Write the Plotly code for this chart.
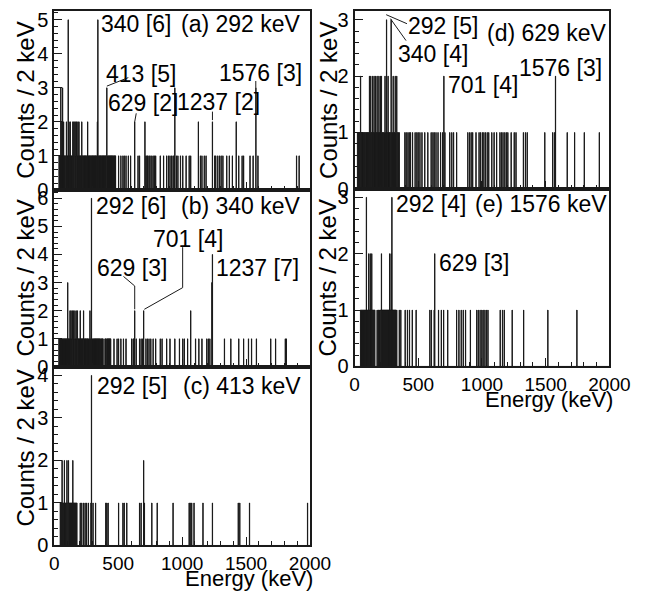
import numpy as np
import plotly.graph_objects as go

# ---------------- data: energies (keV) of 2-keV bins, grouped by bin content ----------------
# (a) gate 292 keV
a_e1 = [36, 38, 40, 42, 44, 46, 54, 60, 68, 76, 80, 82, 84, 86, 88, 92, 98, 100, 102, 104, 106, 112,
        118, 120, 122, 128, 130, 132, 134, 136, 138, 140, 142, 148, 150, 156, 158, 162, 164, 166, 170,
        172, 178, 180, 182, 188, 190, 196, 198, 200, 204, 206, 208, 212, 218, 220, 222, 226, 228, 232,
        234, 238, 240, 244, 246, 250, 252, 256, 262, 266, 270, 272, 276, 278, 282, 284, 288, 290, 294,
        296, 300, 302, 306, 310, 314, 318, 320, 324, 328, 330, 334, 344, 346, 350, 352, 356, 358, 362,
        364, 368, 370, 374, 376, 380, 384, 388, 392, 396, 398, 402, 416, 420, 424, 428, 432, 436, 440,
        444, 448, 452, 456, 462, 466, 470, 474, 478, 503, 521, 536, 546, 561, 579, 596, 654, 666, 716,
        724, 731, 741, 749, 762, 772, 782, 792, 829, 854, 879, 892, 904, 917, 929, 937, 954, 967, 987,
        1005, 1030, 1055, 1067, 1142, 1155, 1172, 1187, 1255, 1263, 1278, 1293, 1305, 1318, 1348, 1368,
        1393, 1443, 1468, 1480, 1530, 1555, 1593, 1894, 1914]
a_e2 = [58, 73, 95, 115, 125, 145, 153, 160, 168, 175, 185, 193, 215, 260, 336, 629, 709, 1127, 1237, 1423]
a_e3 = [50, 64, 410, 942, 1576]
a_e5 = [108, 340]

# (b) gate 340 keV
b_e1 = [36, 40, 44, 48, 52, 56, 60, 64, 68, 72, 76, 80, 84, 88, 92, 96, 100, 108, 112, 116, 120, 126,
        128, 132, 136, 138, 142, 146, 150, 152, 156, 158, 162, 166, 168, 172, 176, 178, 182, 186, 188,
        192, 196, 198, 206, 210, 212, 216, 220, 222, 226, 230, 232, 236, 240, 242, 246, 250, 252, 256,
        260, 262, 266, 272, 284, 290, 298, 302, 306, 312, 316, 320, 324, 328, 332, 336, 340, 344, 348,
        352, 356, 362, 368, 372, 376, 380, 396, 400, 404, 412, 416, 420, 424, 428, 432, 436, 440, 466,
        491, 503, 521, 541, 561, 604, 616, 622, 641, 666, 679, 691, 716, 729, 741, 754, 772, 792, 829,
        842, 879, 904, 942, 979, 1005, 1017, 1042, 1105, 1130, 1155, 1192, 1205, 1217, 1330, 1380,
        1443, 1480, 1518, 1543, 1581, 1693, 1731, 1806, 1814]
b_e2 = [123, 130, 140, 148, 160, 170, 180, 203, 228, 278, 629, 699, 1067]
b_e3 = [105, 1233]
b_e4 = [1237]
b_e6 = [291]

# (c) gate 413 keV
c_e1 = [46, 48, 52, 54, 56, 62, 64, 68, 70, 72, 76, 80, 82, 86, 88, 90, 94, 96, 100, 102, 104, 108,
        112, 114, 116, 120, 122, 124, 128, 130, 132, 136, 138, 140, 142, 148, 150, 152, 156, 158, 160,
        164, 166, 168, 172, 174, 176, 203, 215, 228, 240, 253, 266, 286, 303, 323, 403, 411, 421, 503,
        536, 546, 566, 666, 679, 704, 762, 804, 929, 1055, 1062, 1075, 1092, 1162, 1237, 1438, 1450,
        1526, 1981]
c_e2 = [60, 78, 98, 110, 145, 699]
c_e4 = [291]

# (d) gate 629 keV
d_e1 = [22, 24, 26, 30, 32, 34, 38, 40, 42, 44, 50, 52, 54, 58, 60, 62, 64, 68, 70, 72, 76, 78, 80, 84,
        86, 88, 90, 94, 96, 98, 102, 104, 106, 110, 112, 114, 120, 122, 124, 130, 132, 134, 136, 144,
        146, 148, 154, 156, 158, 160, 168, 170, 172, 180, 182, 184, 186, 194, 196, 198, 206, 208, 212,
        214, 216, 220, 222, 224, 226, 230, 232, 234, 236, 240, 242, 244, 246, 254, 256, 258, 264, 266,
        268, 270, 274, 276, 278, 280, 282, 292, 294, 296, 298, 300, 306, 308, 310, 314, 316, 320, 322,
        324, 326, 328, 334, 336, 338, 340, 342, 344, 346, 348, 350, 394, 404, 419, 429, 439, 454, 474,
        489, 499, 512, 529, 550, 575, 600, 615, 625, 638, 655, 675, 690, 708, 746, 763, 776, 801, 889,
        902, 914, 927, 952, 977, 989, 1002, 1015, 1027, 1040, 1052, 1077, 1095, 1115, 1140, 1153, 1165,
        1178, 1191, 1203, 1228, 1253, 1266, 1324, 1341, 1354, 1493, 1555, 1568, 1668, 1726, 1802, 1920]
d_e2 = [47, 117, 127, 140, 152, 165, 177, 190, 203, 210, 238, 262, 303, 318, 331, 700, 1576]
d_e3 = [250, 287]

# (e) gate 1576 keV
e_e1 = [46, 48, 50, 54, 56, 58, 62, 64, 66, 70, 72, 74, 78, 80, 82, 86, 88, 90, 94, 96, 98, 102, 104,
        106, 112, 114, 116, 120, 124, 126, 128, 132, 138, 140, 142, 146, 148, 150, 154, 156, 158, 176,
        184, 190, 196, 202, 204, 206, 208, 214, 216, 218, 220, 222, 224, 226, 228, 230, 232, 234, 236,
        238, 240, 242, 244, 246, 248, 250, 252, 254, 256, 258, 260, 262, 264, 266, 268, 270, 276, 278,
        280, 282, 284, 290, 294, 296, 298, 300, 302, 304, 306, 308, 310, 312, 314, 316, 318, 320, 322,
        324, 330, 350, 363, 396, 414, 431, 452, 482, 591, 603, 624, 659, 680, 699, 730, 801, 819, 837,
        852, 870, 908, 959, 971, 984, 999, 1009, 1022, 1034, 1047, 1143, 1161, 1174, 1237, 1326, 1516,
        1744]
e_e2 = [110, 122, 135, 211, 274, 287, 629]
e_e3 = [92, 292]

gate_labels = ["(a) 292 keV", "(b) 340 keV", "(c) 413 keV", "(d) 629 keV", "(e) 1576 keV"]
x_ticks = [0, 500, 1000, 1500, 2000]
x_title = "Energy (keV)"
y_title = "Counts / 2 keV"

# ---------------- layout helpers ----------------
W, H = 665, 601
FONT = "Liberation Sans"


def fx(p):
    return p / W


def fy(p):
    return 1 - p / H


BIN = 2
edges = np.arange(0, 2000 + BIN, BIN)


def build(groups):
    cnt = np.zeros(len(edges) - 1)
    for c, es in groups:
        for e in es:
            cnt[min(int(e // BIN), len(cnt) - 1)] = c
    return cnt


panels = [
    dict(groups=[(1, a_e1), (2, a_e2), (3, a_e3), (5, a_e5)], xd=(51.3, 317.4), yd=(9.5, 192), ymax=5.25, lab=False),
    dict(groups=[(1, b_e1), (2, b_e2), (3, b_e3), (4, b_e4), (6, b_e6)], xd=(51.3, 317.4), yd=(192, 373), ymax=6.3, lab=False),
    dict(groups=[(1, c_e1), (2, c_e2), (4, c_e4)], xd=(51.3, 317.4), yd=(373, 555.5), ymax=4.2, lab=True),
    dict(groups=[(1, d_e1), (2, d_e2), (3, d_e3)], xd=(363.8, 629), yd=(9.5, 191), ymax=3.15, lab=False),
    dict(groups=[(1, e_e1), (2, e_e2), (3, e_e3)], xd=(363.8, 629), yd=(191, 372.5), ymax=3.15, lab=True),
]

fig = go.Figure()
layout = dict(width=W, height=H, margin=dict(l=0, r=0, t=0, b=0), paper_bgcolor="white",
              plot_bgcolor="white", showlegend=False, font=dict(family=FONT, color="black"))
annotations = []
shapes = []

for i, p in enumerate(panels):
    n = i + 1
    xs = "x" if n == 1 else f"x{n}"
    ys = "y" if n == 1 else f"y{n}"
    cnt = build(p["groups"])
    fig.add_trace(go.Scatter(x=edges, y=np.append(cnt, cnt[-1]), mode="lines", line_shape="hv",
                             fill="tozeroy", fillcolor="#1a1a1a",
                             line=dict(color="#1a1a1a", width=1), xaxis=xs, yaxis=ys, hoverinfo="skip"))
    xk = "xaxis" if n == 1 else f"xaxis{n}"
    yk = "yaxis" if n == 1 else f"yaxis{n}"
    layout[xk] = dict(domain=[fx(p["xd"][0]), fx(p["xd"][1])], range=[0, 2000], anchor=ys,
                      showline=True, mirror=True, linecolor="#1a1a1a", linewidth=2,
                      ticks="inside", tickvals=x_ticks, ticklen=8, tickcolor="#1a1a1a",
                      minor=dict(dtick=100, ticklen=4, ticks="inside", tickcolor="#1a1a1a"),
                      showticklabels=p["lab"], tickfont=dict(size=19, family=FONT),
                      showgrid=False, zeroline=False, fixedrange=True)
    layout[yk] = dict(domain=[fy(p["yd"][1]), fy(p["yd"][0])], range=[0, p["ymax"]], anchor=xs,
                      showline=True, mirror=True, linecolor="#1a1a1a", linewidth=2,
                      ticks="inside", dtick=1, ticklen=8, tickcolor="#1a1a1a",
                      minor=dict(dtick=0.2, ticklen=4, ticks="inside", tickcolor="#1a1a1a"),
                      tickfont=dict(size=20, family=FONT), showgrid=False, zeroline=False, fixedrange=True)
    # gate label (right aligned, top)
    xr = 1945 if n <= 3 else 1995
    ytop = {1: 4.88, 2: 5.74, 3: 3.76, 4: 2.76, 5: 2.88}[n]
    annotations.append(dict(x=xr, y=ytop, xref=xs, yref=ys, text=gate_labels[i], showarrow=False,
                            xanchor="right", yanchor="middle", font=dict(size=23)))
    # y title
    cy = (p["yd"][0] + p["yd"][1]) / 2
    if n == 3:
        cy -= 8
    tx = 21 if n <= 3 else 336
    annotations.append(dict(x=fx(tx), y=fy(cy), xref="paper", yref="paper", text=y_title,
                            textangle=-90, showarrow=False, xanchor="center", yanchor="middle",
                            font=dict(size=24)))
    if p["lab"]:
        xt = 323 if n == 3 else 635
        annotations.append(dict(x=fx(xt), y=fy(p["yd"][1] + 34), xref="paper", yref="paper", text=x_title,
                                showarrow=False, xanchor="right", yanchor="middle", font=dict(size=22)))

# peak labels: (panel, x, y, text)
peak_labels = [
    (1, 350, 4.88, "340 [6]"), (1, 392, 3.42, "413 [5]"), (1, 405, 2.55, "629 [2]"),
    (1, 948, 2.57, "1237 [2]"), (1, 1275, 3.44, "1576 [3]"),
    (2, 310, 5.74, "292 [6]"), (2, 755, 4.55, "701 [4]"), (2, 322, 3.51, "629 [3]"),
    (2, 1250, 3.51, "1237 [7]"),
    (3, 318, 3.76, "292 [5]"),
    (4, 405, 2.89, "292 [5]"), (4, 322, 2.39, "340 [4]"), (4, 720, 1.84, "701 [4]"),
    (4, 1273, 2.15, "1576 [3]"),
    (5, 306, 2.88, "292 [4]"), (5, 643, 1.84, "629 [3]"),
]
for n, x, y, t in peak_labels:
    xs = "x" if n == 1 else f"x{n}"
    ys = "y" if n == 1 else f"y{n}"
    annotations.append(dict(x=x, y=y, xref=xs, yref=ys, text=t, showarrow=False, xanchor="left",
                            yanchor="middle", font=dict(size=23)))

# leader lines: (panel, [(x, y), ...])
leaders = [
    (1, [(411, 3.05), (579, 3.3)]),
    (1, [(629, 2.0), (641, 2.25)]),
    (1, [(1237, 2.05), (1237, 2.3)]),
    (1, [(1576, 3.0), (1576, 3.2)]),
    (2, [(704, 2.05), (1004, 2.82), (1004, 4.26)]),
    (2, [(629, 2.05), (629, 2.88), (541, 3.22)]),
    (4, [(248, 3.09), (411, 2.93)]),
    (4, [(281, 3.02), (404, 2.63)]),
]
for n, pts in leaders:
    xs = "x" if n == 1 else f"x{n}"
    ys = "y" if n == 1 else f"y{n}"
    for (x0, y0), (x1, y1) in zip(pts[:-1], pts[1:]):
        shapes.append(dict(type="line", xref=xs, yref=ys, x0=x0, y0=y0, x1=x1, y1=y1,
                           line=dict(color="#1a1a1a", width=1)))

layout["annotations"] = annotations
layout["shapes"] = shapes
fig.update_layout(**layout)
fig.write_html("out.html", config={"displayModeBar": False},
               post_script="document.body.style.margin='0';document.body.style.overflow='hidden';")
